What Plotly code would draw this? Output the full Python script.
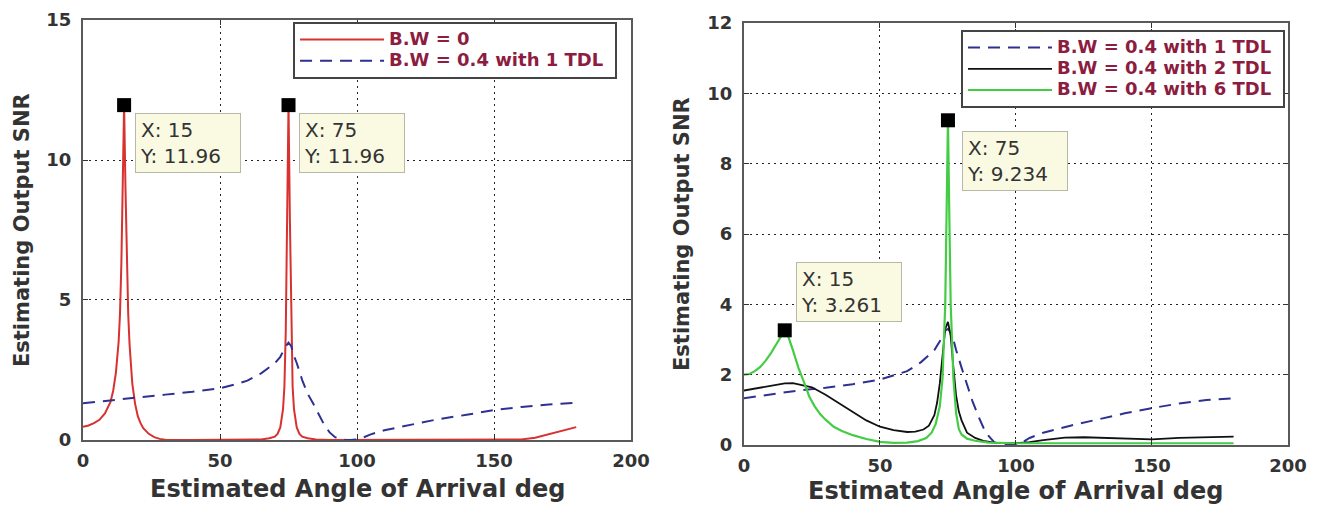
import plotly.graph_objects as go

# ---------------- data: left panel ----------------
left_x_bw0 = [0, 2, 4, 6, 8, 10, 11, 12, 13, 13.5, 14, 14.5, 15, 15.5, 16, 16.5, 17, 18, 19, 20, 21, 22, 24, 26, 28, 30, 40,
              60, 65, 68, 70, 71, 72, 73, 73.5, 74, 74.5, 75, 75.5, 76, 76.5, 77, 78, 79, 80, 82, 85, 90,
              150, 158, 160, 165, 170, 175, 180]
left_y_bw0 = [0.47, 0.52, 0.6, 0.72, 0.95, 1.35, 1.75, 2.4, 3.5, 4.5, 6.3, 9.0, 11.96, 9.0, 6.3, 4.5, 3.4, 2.0, 1.3, 0.85, 0.6, 0.42, 0.22, 0.1, 0.04, 0.01, 0.0,
              0.0, 0.02, 0.06, 0.12, 0.22, 0.45, 1.1, 1.9, 3.9, 7.9, 11.96, 7.9, 3.9, 1.9, 1.1, 0.45, 0.22, 0.12, 0.06, 0.02, 0.0,
              0.0, 0.0, 0.02, 0.08, 0.2, 0.33, 0.46]

left_x_tdl1 = [0, 10, 20, 30, 40, 50, 55, 60, 65, 68, 70, 72, 74, 75, 76, 77, 78, 80, 82, 84, 86, 88, 90, 92, 94, 96, 98,
               100, 102, 105, 110, 120, 130, 140, 150, 160, 170, 180]
left_y_tdl1 = [1.31, 1.42, 1.53, 1.62, 1.72, 1.85, 1.97, 2.12, 2.38, 2.58, 2.74, 2.97, 3.35, 3.48, 3.35, 3.0, 2.75, 2.14, 1.65,
               1.3, 0.9, 0.55, 0.27, 0.1, 0.03, 0.0, 0.0, 0.02, 0.08, 0.2, 0.35, 0.55, 0.75, 0.9, 1.07, 1.18, 1.27, 1.33]

# ---------------- data: right panel ----------------
right_x_tdl1 = [0, 10, 20, 30, 40, 50, 55, 60, 65, 68, 70, 72, 74, 75, 76, 77, 78, 80, 82, 84, 86, 88, 90, 92, 94, 96,
                100, 102, 105, 110, 120, 130, 140, 150, 160, 170, 180]
right_y_tdl1 = [1.33, 1.44, 1.55, 1.63, 1.73, 1.86, 1.97, 2.1, 2.35, 2.55, 2.7, 2.95, 3.25, 3.3, 3.2, 3.0, 2.7, 2.2, 1.7,
                1.25, 0.85, 0.5, 0.25, 0.08, 0.02, 0.0, 0.02, 0.06, 0.2, 0.35, 0.55, 0.73, 0.9, 1.05, 1.18, 1.28, 1.33]

right_x_tdl2 = [0, 5, 10, 15, 18, 22, 25, 30, 35, 40, 45, 50, 55, 60, 63, 66, 68, 70, 71, 72, 73, 74, 75, 76, 77, 78, 79,
                80, 82, 85, 88, 92, 100, 105, 110, 118, 125, 135, 150, 160, 170, 180]
right_y_tdl2 = [1.55, 1.62, 1.7, 1.75, 1.76, 1.7, 1.64, 1.43, 1.18, 0.95, 0.7, 0.52, 0.42, 0.37, 0.38, 0.44, 0.55, 0.85, 1.2,
                1.75, 2.6, 3.3, 3.5, 3.1, 2.2, 1.4, 0.95, 0.7, 0.35, 0.2, 0.12, 0.07, 0.05, 0.08, 0.14, 0.21, 0.22, 0.19,
                0.16, 0.2, 0.23, 0.24]

right_x_tdl6 = [0, 2, 4, 6, 8, 10, 12, 14, 15, 16, 17, 18, 19, 20, 22, 24, 26, 28, 30, 33, 36, 40, 45, 50, 55, 60, 64, 67,
                69, 70.5, 72, 73, 74, 74.5, 75, 75.5, 76, 77, 78, 79, 80, 82, 85, 90, 100, 120, 150, 180]
right_y_tdl6 = [2.0, 2.02, 2.1, 2.22, 2.4, 2.62, 2.88, 3.12, 3.261, 3.15, 2.95, 2.7, 2.45, 2.2, 1.8, 1.38, 1.1, 0.88, 0.72,
                0.52, 0.4, 0.28, 0.17, 0.09, 0.06, 0.07, 0.11, 0.2, 0.35, 0.6, 1.1, 1.9, 4.0, 6.5, 9.234, 6.5, 4.0, 1.9,
                0.9, 0.45, 0.3, 0.18, 0.12, 0.07, 0.05, 0.05, 0.05, 0.05]

# data-tip points
left_tip_x = [15, 75]
left_tip_y = [11.96, 11.96]
right_tip_x = [75, 15]
right_tip_y = [9.234, 3.261]

x_ticks = [0, 50, 100, 150, 200]
left_y_ticks = [0, 5, 10, 15]
right_y_ticks = [0, 2, 4, 6, 8, 10, 12]

x_title = "Estimated Angle of Arrival deg"
y_title = "Estimating Output SNR"

# ---------------- styles ----------------
FONT = "DejaVu Sans"
RED = "#D93030"
BLUE = "#2E3190"
BLACK = "#111111"
GREEN = "#45CC45"
LEG_TEXT = "#8C1D40"


def leg(name):
    return f'<span style="font-size:18px">{name}&nbsp;</span>'


fig = go.Figure()

fig.add_trace(go.Scatter(x=left_x_bw0, y=left_y_bw0, mode="lines", name=leg("B.W = 0"),
                         line=dict(color=RED, width=2), xaxis="x", yaxis="y", legend="legend"))
fig.add_trace(go.Scatter(x=left_x_tdl1, y=left_y_tdl1, mode="lines", name=leg("B.W = 0.4 with 1 TDL"),
                         line=dict(color=BLUE, width=2, dash="12px,8px"), xaxis="x", yaxis="y", legend="legend"))
fig.add_trace(go.Scatter(x=left_tip_x, y=left_tip_y, mode="markers", showlegend=False,
                         marker=dict(symbol="square", size=14, color="black"), xaxis="x", yaxis="y"))

fig.add_trace(go.Scatter(x=right_x_tdl1, y=right_y_tdl1, mode="lines", name=leg("B.W = 0.4 with 1 TDL"),
                         line=dict(color=BLUE, width=2, dash="12px,8px"), xaxis="x2", yaxis="y2", legend="legend2"))
fig.add_trace(go.Scatter(x=right_x_tdl2, y=right_y_tdl2, mode="lines", name=leg("B.W = 0.4 with 2 TDL"),
                         line=dict(color=BLACK, width=1.8), xaxis="x2", yaxis="y2", legend="legend2"))
fig.add_trace(go.Scatter(x=right_x_tdl6, y=right_y_tdl6, mode="lines", name=leg("B.W = 0.4 with 6 TDL"),
                         line=dict(color=GREEN, width=2.2), xaxis="x2", yaxis="y2", legend="legend2"))
fig.add_trace(go.Scatter(x=right_tip_x, y=right_tip_y, mode="markers", showlegend=False,
                         marker=dict(symbol="square", size=14, color="black"), xaxis="x2", yaxis="y2"))

axis_common = dict(
    showline=True, mirror="allticks", linecolor="#5a5a5a", linewidth=2,
    ticks="inside", ticklen=5, tickcolor="#333", tickwidth=1,
    showgrid=True, gridcolor="#222", gridwidth=1.2, griddash="2px,4px",
    zeroline=False, automargin=False,
    tickfont=dict(family=FONT, size=18, color="#333", weight="bold"),
)

legend_common = dict(xanchor="right", yanchor="top", bgcolor="white", bordercolor="#444", borderwidth=2,
                     itemwidth=84, font=dict(family=FONT, size=14, color=LEG_TEXT, weight="bold"),
                     tracegroupgap=0)

fig.update_layout(
    width=1319, height=497,
    margin=dict(l=75, r=39, t=12, b=60),
    paper_bgcolor="white", plot_bgcolor="white",
    xaxis=dict(domain=[0, 0.4548], range=[0, 200], tickvals=x_ticks, anchor="y",
               ticklabelstandoff=3, **axis_common),
    yaxis=dict(domain=[0.0118, 1], range=[0, 15], tickvals=left_y_ticks, anchor="x",
               ticklabelstandoff=6, **axis_common),
    xaxis2=dict(domain=[0.5485, 1], range=[0, 200], tickvals=x_ticks, anchor="y2",
                ticklabelstandoff=3, **axis_common),
    yaxis2=dict(domain=[0, 0.9929], range=[0, 12], tickvals=right_y_ticks, anchor="x2",
                ticklabelstandoff=6, **axis_common),
    legend=dict(x=0.4432, y=0.9953, **legend_common),
    legend2=dict(x=0.9975, y=0.9765, **legend_common),
    hovermode=False,
)

annotations = []
tip_style = dict(showarrow=False, xanchor="left", yanchor="top", align="left",
                 bgcolor="#FAFAE3", bordercolor="#B8B8A8", borderwidth=1, borderpad=4,
                 width=96, font=dict(family=FONT, size=20, color="#333"))

# left tips (box placed below-right of each point)
for tx, ty in zip(left_tip_x, left_tip_y):
    annotations.append(dict(x=tx + 4, y=ty - 0.28, xref="x", yref="y",
                            text=f"X: {tx}<br>Y: {ty}", **tip_style))
# right tips
annotations.append(dict(x=right_tip_x[0] + 5, y=right_tip_y[0] - 0.3, xref="x2", yref="y2",
                        text=f"X: {right_tip_x[0]}<br>Y: {right_tip_y[0]}", **tip_style))
annotations.append(dict(x=right_tip_x[1] + 4, y=right_tip_y[1] + 1.94, xref="x2", yref="y2",
                        text=f"X: {right_tip_x[1]}<br>Y: {right_tip_y[1]}", **tip_style))

title_font_x = dict(family=FONT, size=24, color="#333", weight="bold")
title_font_y = dict(family=FONT, size=21, color="#333", weight="bold")
# axis titles
annotations.append(dict(x=0.2274, y=-0.1035, xref="paper", yref="paper", text=x_title, showarrow=False,
                        xanchor="center", yanchor="middle", font=title_font_x))
annotations.append(dict(x=0.7742, y=-0.108, xref="paper", yref="paper", text=x_title, showarrow=False,
                        xanchor="center", yanchor="middle", font=title_font_x))
annotations.append(dict(x=-0.0506, y=0.5059, xref="paper", yref="paper", text=y_title, showarrow=False,
                        textangle=-90, xanchor="center", yanchor="middle", font=title_font_y))
annotations.append(dict(x=0.4971, y=0.4965, xref="paper", yref="paper", text=y_title, showarrow=False,
                        textangle=-90, xanchor="center", yanchor="middle", font=title_font_y))

fig.update_layout(annotations=annotations)

fig.write_html("out.html")
